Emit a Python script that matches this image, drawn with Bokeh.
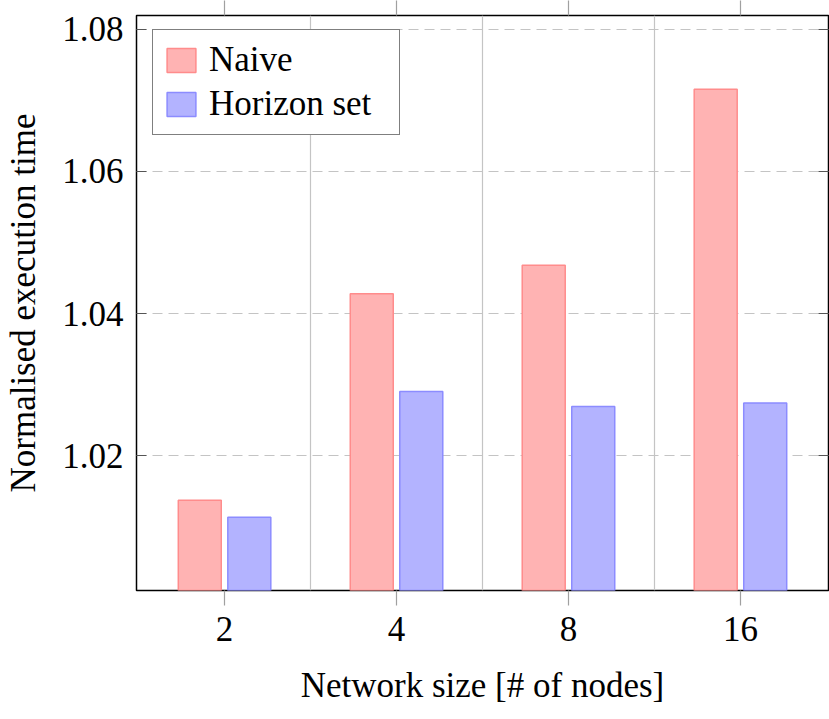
from bokeh.plotting import figure
from bokeh.models import (ColumnDataSource, FixedTicker, Range1d, Legend, LegendItem,
                          LinearAxis)
from bokeh.embed import file_html
from bokeh.resources import INLINE

# ---- data ----
categories = ["2", "4", "8", "16"]
naive = [1.0137, 1.0428, 1.0468, 1.0716]
horizon = [1.0113, 1.0290, 1.0269, 1.0274]
y_ticks = [1.02, 1.04, 1.06, 1.08]

FONT = "'Liberation Serif', serif"
FS = "35px"

idx = list(range(len(categories)))
bar_w = 0.25
off = 0.144

src_n = ColumnDataSource(dict(x=[i - off for i in idx], top=naive))
src_h = ColumnDataSource(dict(x=[i + off for i in idx], top=horizon))

p = figure(width=829, height=712, output_backend="svg", toolbar_location=None,
           x_range=Range1d(-0.512, len(categories) - 1 + 0.512),
           y_range=Range1d(1.00099, 1.08197),
           min_border_left=136, min_border_top=15, min_border_right=1,
           min_border_bottom=122, x_axis_location="below")

p.outline_line_color = "black"
p.outline_line_width = 1.5
p.background_fill_color = "white"
p.border_fill_color = "white"

rn = p.vbar(x="x", top="top", bottom=1.0, width=bar_w, source=src_n,
            fill_color="#ffb3b3", line_color="#ff8c8c", line_width=1.5)
rh = p.vbar(x="x", top="top", bottom=1.0, width=bar_w, source=src_h,
            fill_color="#b3b3ff", line_color="#8c8cff", line_width=1.5)

# grids
p.xgrid.ticker = FixedTicker(ticks=[i + 0.5 for i in idx[:-1]])
p.xgrid.grid_line_color = "#c4c4c4"
p.xgrid.grid_line_width = 1.2
p.ygrid.ticker = FixedTicker(ticks=y_ticks)
p.ygrid.grid_line_color = "#c4c4c4"
p.ygrid.grid_line_width = 1.2
p.ygrid.grid_line_dash = "10 6"

# x axis
xa = p.xaxis[0]
xa.ticker = FixedTicker(ticks=idx)
xa.major_label_overrides = {i: c for i, c in zip(idx, categories)}
xa.axis_line_color = None
xa.major_tick_line_color = "#a0a0a0"
xa.major_tick_line_width = 1.2
xa.major_tick_out = 15
xa.major_tick_in = 0
xa.minor_tick_line_color = None
xa.major_label_text_font = FONT
xa.major_label_text_font_size = FS
xa.major_label_text_color = "black"
xa.major_label_standoff = 11
xa.axis_label = "Network size [# of nodes]"
xa.axis_label_text_font = FONT
xa.axis_label_text_font_size = FS
xa.axis_label_text_font_style = "normal"
xa.axis_label_text_color = "black"
xa.axis_label_standoff = 22

# top ticks
ta = LinearAxis(ticker=FixedTicker(ticks=idx), axis_line_color=None,
                major_tick_line_color="#a0a0a0", major_tick_line_width=1.2,
                major_tick_out=15, major_tick_in=0, minor_tick_line_color=None,
                major_label_overrides={i: "" for i in idx},
                major_label_standoff=0)
p.add_layout(ta, "above")

# y axis
ya = p.yaxis[0]
ya.ticker = FixedTicker(ticks=y_ticks)
ya.axis_line_color = None
ya.major_tick_line_color = "#555555"
ya.major_tick_line_width = 1.2
ya.major_tick_in = 10
ya.major_tick_out = 0
ya.minor_tick_line_color = None
ya.major_label_text_font = FONT
ya.major_label_text_font_size = FS
ya.major_label_text_color = "black"
ya.major_label_standoff = 13
ya.axis_label = "Normalised execution time"
ya.axis_label_text_font = FONT
ya.axis_label_text_font_size = FS
ya.axis_label_text_font_style = "normal"
ya.axis_label_text_color = "black"
ya.axis_label_standoff = 16

ra = LinearAxis(ticker=FixedTicker(ticks=y_ticks), axis_line_color=None,
                major_tick_line_color="#555555", major_tick_line_width=1.2,
                major_tick_in=10, major_tick_out=0, minor_tick_line_color=None,
                major_label_overrides={t: "" for t in y_ticks},
                major_label_standoff=0)
p.add_layout(ra, "right")

legend = Legend(items=[LegendItem(label="Naive", renderers=[rn]),
                       LegendItem(label="Horizon set", renderers=[rh])],
                location=(16, 455))
legend.border_line_color = "black"
legend.border_line_width = 1.5
legend.background_fill_alpha = 1.0
legend.label_text_font = FONT
legend.label_text_font_size = FS
legend.label_text_color = "black"
legend.glyph_width = 36
legend.glyph_height = 30
legend.label_height = 34
legend.label_width = 180
legend.spacing = 4
legend.padding = 10
legend.label_standoff = 10
legend.margin = 0
p.add_layout(legend, "center")

open("out.html", "w").write(file_html(p, INLINE))
